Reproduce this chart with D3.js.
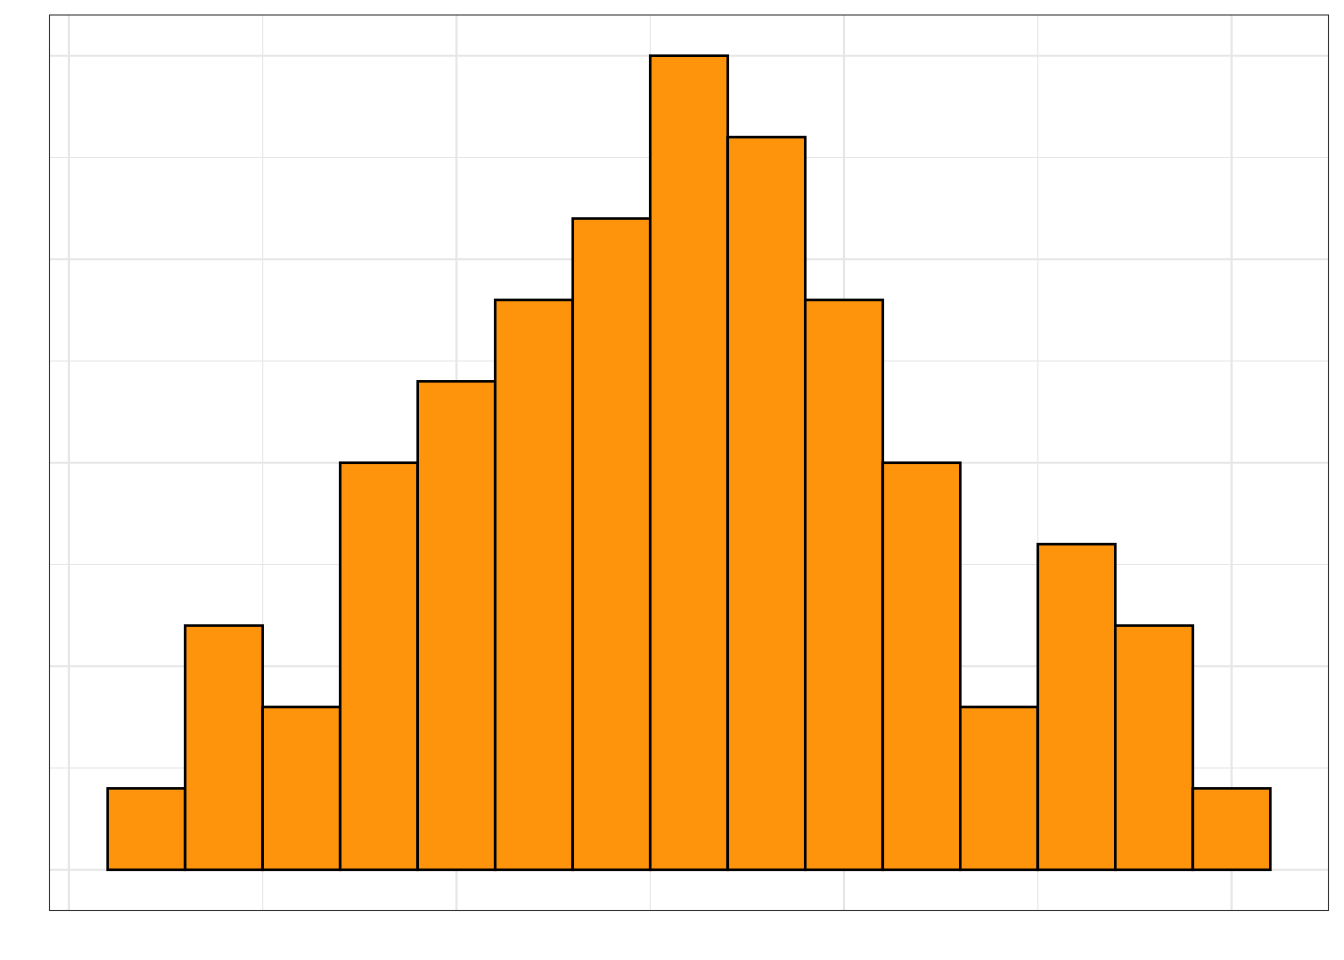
<!DOCTYPE html>
<html><head><meta charset="utf-8">
<script src="https://cdn.jsdelivr.net/npm/d3@7"></script>
<style>body{margin:0;background:#fff}svg{display:block}</style>
</head><body>
<svg id="c" width="1344" height="960"></svg>
<script>
// bin starts (in bin units) and counts
const binStarts = [0.5,1.5,2.5,3.5,4.5,5.5,6.5,7.5,8.5,9.5,10.5,11.5,12.5,13.5,14.5];
const counts    = [1,3,2,5,6,7,8,10,9,7,5,2,4,3,1];
const binWidth = 1;
const xMajor = [0,5,10,15];
const xMinor = [2.5,7.5,12.5];
const yMajor = [0,2.5,5,7.5,10];
const yMinor = [1.25,3.75,6.25,8.75];

const svg = d3.select("#c");
const L = 49.5, R = 1328.5, T = 15, B = 910.5;
const x = d3.scaleLinear().domain([-0.25,16.25]).range([L,R]);
const y = d3.scaleLinear().domain([-0.5,10.5]).range([B,T]);
const grid = "#e6e6e6";

svg.append("rect").attr("x",L).attr("y",T).attr("width",R-L).attr("height",B-T).attr("fill","#fff");
const g = svg.append("g");
g.selectAll(".yminor").data(yMinor).enter().append("line")
  .attr("x1",L).attr("x2",R).attr("y1",d=>y(d)).attr("y2",d=>y(d))
  .attr("stroke",grid).attr("stroke-width",1.07);
g.selectAll(".xminor").data(xMinor).enter().append("line")
  .attr("y1",T).attr("y2",B).attr("x1",d=>x(d)).attr("x2",d=>x(d))
  .attr("stroke",grid).attr("stroke-width",1.07);
g.selectAll(".ymajor").data(yMajor).enter().append("line")
  .attr("x1",L).attr("x2",R).attr("y1",d=>y(d)).attr("y2",d=>y(d))
  .attr("stroke",grid).attr("stroke-width",2.13);
g.selectAll(".xmajor").data(xMajor).enter().append("line")
  .attr("y1",T).attr("y2",B).attr("x1",d=>x(d)).attr("x2",d=>x(d))
  .attr("stroke",grid).attr("stroke-width",2.13);

svg.append("g").selectAll("rect").data(binStarts).enter().append("rect")
  .attr("x",d=>x(d)).attr("width",d=>x(d+binWidth)-x(d))
  .attr("y",(d,i)=>y(counts[i])).attr("height",(d,i)=>y(0)-y(counts[i]))
  .attr("fill","#FE940C").attr("stroke","#000").attr("stroke-width",2.6);

svg.append("rect").attr("x",L).attr("y",T).attr("width",R-L).attr("height",B-T)
  .attr("fill","none").attr("stroke","#333").attr("stroke-width",1.07);
</script>
</body></html>
